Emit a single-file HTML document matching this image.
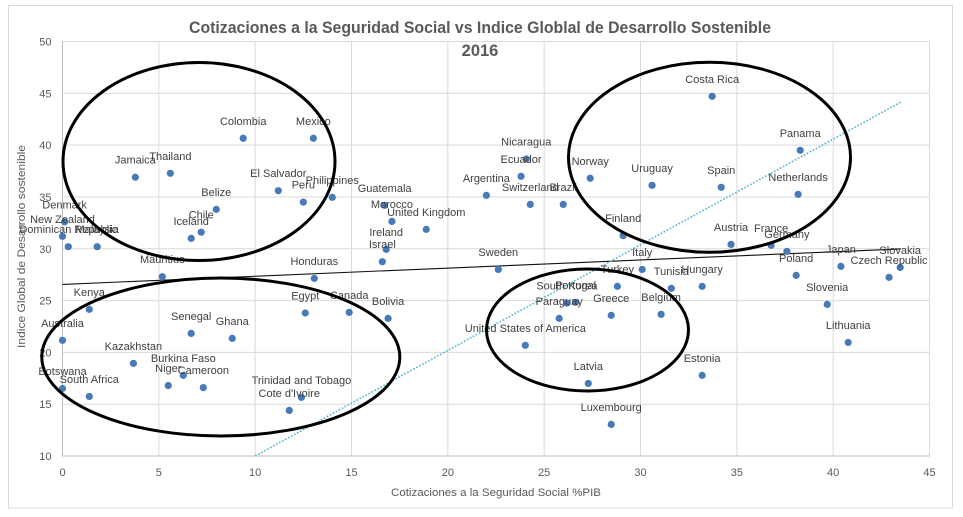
<!DOCTYPE html>
<html lang="es">
<head>
<meta charset="utf-8">
<title>Cotizaciones a la Seguridad Social vs Indice Globlal de Desarrollo Sostenible</title>
<style>
html,body{margin:0;padding:0;background:#fff;width:963px;height:517px;overflow:hidden}
svg{display:block;font-family:"Liberation Sans",sans-serif}
</style>
</head>
<body>
<svg id="chart" xmlns="http://www.w3.org/2000/svg" width="963" height="517" viewBox="0 0 963 517">
  <rect x="8.5" y="5.5" width="944" height="502.5" fill="#fff" stroke="#d9d9d9"/>
  <g id="grid"></g>
  <g id="axes"></g>
  <g id="trends"></g>
  <g id="points"></g>
  <g id="labels"></g>
  <text x="480" y="33" text-anchor="middle" font-size="16.5" font-weight="bold" fill="#595959" textLength="582" lengthAdjust="spacingAndGlyphs">Cotizaciones a la Seguridad Social vs Indice Globlal de Desarrollo Sostenible</text>
  <text x="480" y="56" text-anchor="middle" font-size="16.5" font-weight="bold" fill="#595959">2016</text>
  <text x="496" y="496" text-anchor="middle" font-size="11" fill="#595959" textLength="210" lengthAdjust="spacingAndGlyphs">Cotizaciones a la Seguridad Social %PIB</text>
  <text transform="translate(25 246.5) rotate(-90)" text-anchor="middle" font-size="11" fill="#595959" textLength="203" lengthAdjust="spacingAndGlyphs">Indice Global de Desarrollo sostenible</text>
  <g fill="none" stroke="#000" stroke-width="3">
    <ellipse cx="199" cy="161.5" rx="136" ry="99"/>
    <ellipse cx="220.8" cy="357" rx="179" ry="79"/>
    <ellipse cx="587.5" cy="330" rx="101" ry="61"/>
    <ellipse cx="709.5" cy="157.3" rx="141" ry="95"/>
  </g>
</svg>
<script>
const xTickLabels = [0, 5, 10, 15, 20, 25, 30, 35, 40, 45];
const yTickLabels = [10, 15, 20, 25, 30, 35, 40, 45, 50];
const countries = ["Colombia","Mexico","Jamaica","Thailand","El Salvador","Peru","Belize","Chile","Iceland","Denmark","New Zealand","Dominican Republic","Malaysia","Mauritius","Kenya","Honduras","Egypt","Senegal","Ghana","Australia","Kazakhstan","Burkina Faso","Niger","Cameroon","Botswana","South Africa","Trinidad and Tobago","Cote d'Ivoire","Philippines","Guatemala","Morocco","United Kingdom","Ireland","Israel","Nicaragua","Ecuador","Norway","Argentina","Switzerland","Brazil","Finland","Sweden","Canada","Bolivia","Turkey","South Korea","Portugal","Paraguay","Greece","United States of America","Latvia","Luxembourg","Italy","Tunisia","Hungary","Belgium","Estonia","Poland","Slovenia","Lithuania","Japan","Czech Republic","Slovakia","Costa Rica","Panama","Uruguay","Spain","Netherlands","Austria","France","Germany"];
const contributions = [9.38,13.02,3.78,5.6,11.2,12.5,7.98,7.2,6.68,0.11,0,0.3,1.8,5.18,1.39,13.07,12.6,6.68,8.81,0,3.68,6.27,5.49,7.31,0,1.39,12.4,11.77,14.0,16.72,17.1,18.88,16.8,16.6,24.07,23.8,27.39,22,24.28,25.99,29.1,22.62,14.88,16.9,28.8,26.18,26.63,25.78,28.48,24.02,27.29,28.48,30.09,31.6,33.2,31.07,33.2,38.08,39.69,40.78,40.4,42.9,43.48,33.72,38.29,30.6,34.19,38.18,34.7,36.78,37.6];
const sdgIndex = [40.66,40.66,36.9,37.28,35.6,34.5,33.8,31.6,31.0,32.6,31.2,30.2,30.2,27.3,24.15,27.14,23.8,21.83,21.35,21.16,18.94,17.78,16.8,16.6,16.52,15.75,15.66,14.4,34.96,34.19,32.64,31.87,29.94,28.75,38.66,36.99,36.8,35.15,34.28,34.28,31.26,28.0,23.86,23.28,26.37,24.76,24.83,23.28,23.57,20.68,17.0,13.05,28.0,26.18,26.37,23.67,17.78,27.43,24.63,20.96,28.3,27.24,28.2,44.71,39.5,36.12,35.93,35.25,30.42,30.33,29.75];
const linearTrendX = [0, 43.5];
const linearTrendY = [26.56, 29.98];
const dottedTrendX = [10, 43.55];
const dottedTrendY = [10, 44.19];

const NS = 'http://www.w3.org/2000/svg';
const plotLeft = 62.5, plotRight = 929.5, plotTop = 41.5, plotBottom = 456;
const xMin = 0, xMax = 45, yMin = 10, yMax = 50;
function xScale(v) { return plotLeft + (v - xMin) / (xMax - xMin) * (plotRight - plotLeft); }
function yScale(v) { return plotBottom - (v - yMin) / (yMax - yMin) * (plotBottom - plotTop); }
function make(tag, attrs, parentId, text) {
  const el = document.createElementNS(NS, tag);
  for (const k in attrs) el.setAttribute(k, attrs[k]);
  if (text !== undefined) el.textContent = text;
  document.getElementById(parentId).appendChild(el);
  return el;
}

xTickLabels.forEach(function (t) {
  const px = xScale(t);
  if (t !== xMin) {
    const line = make('line', {x1: px, x2: px, y1: plotTop, y2: plotBottom, stroke: '#d9d9d9', 'stroke-width': 1}, 'grid');
    
    
  }
  const label = make('text', {x: px, y: 476, 'text-anchor': 'middle', 'font-size': 11, fill: '#595959'}, 'axes', t);
  
  
});

yTickLabels.forEach(function (t) {
  const py = yScale(t);
  if (t !== yMin) {
    const line = make('line', {x1: plotLeft, x2: plotRight, y1: py, y2: py, stroke: '#d9d9d9', 'stroke-width': 1}, 'grid');
    
    
  }
  const label = make('text', {x: 51.5, y: py + 4, 'text-anchor': 'end', 'font-size': 11, fill: '#595959'}, 'axes', t);
  
  
});

const xAxisLine = make('line', {x1: plotLeft, x2: plotRight, y1: plotBottom, y2: plotBottom, stroke: '#bfbfbf', 'stroke-width': 1}, 'axes');


const yAxisLine = make('line', {x1: plotLeft, x2: plotLeft, y1: plotTop, y2: plotBottom, stroke: '#bfbfbf', 'stroke-width': 1}, 'axes');



const linearTrend = make('line', {x1: xScale(linearTrendX[0]), y1: yScale(linearTrendY[0]), x2: xScale(linearTrendX[1]), y2: yScale(linearTrendY[1]), stroke: '#111', 'stroke-width': 1.1}, 'trends');


const dottedTrend = make('line', {x1: xScale(dottedTrendX[0]), y1: yScale(dottedTrendY[0]), x2: xScale(dottedTrendX[1]), y2: yScale(dottedTrendY[1]), stroke: '#5ab4d2', 'stroke-width': 1.6, 'stroke-dasharray': '1.7 1.7'}, 'trends');



countries.forEach(function (name, i) {
  const px = xScale(contributions[i]);
  const py = yScale(sdgIndex[i]);
  const dot = make('circle', {cx: px, cy: py, r: 3.6, fill: '#467ab9'}, 'points');
  
  
  const label = make('text', {x: px, y: py - 13.5, 'text-anchor': 'middle', 'font-size': 11, fill: '#404040'}, 'labels', name);
  
  
});
</script>
</body>
</html>
